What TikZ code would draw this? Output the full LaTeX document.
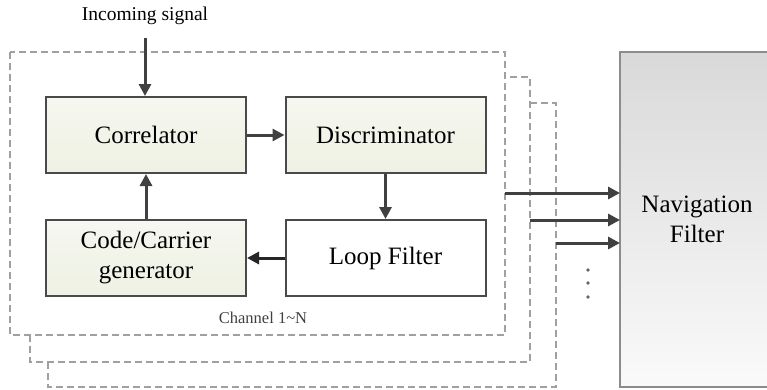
\documentclass[tikz,border=0pt]{standalone}
\usepackage{fontspec}
\setmainfont{Liberation Serif}
\usetikzlibrary{arrows.meta}
\definecolor{boxfill}{HTML}{EEF1E3}
\definecolor{boxline}{HTML}{4A4A4A}
\definecolor{dashcol}{HTML}{A0A0A0}
\definecolor{arrcol}{HTML}{404040}
\tikzset{
  blk/.style={draw=boxline, line width=2pt, minimum width=200pt, minimum height=76pt, inner sep=0pt, align=center, font=\fontsize{25}{30}\selectfont},
  gblk/.style={blk, top color=boxfill!50, bottom color=boxfill, middle color=boxfill!80},
  wblk/.style={blk, fill=white},
  frame/.style={draw=dashcol, line width=1.5pt, dash pattern=on 7pt off 4pt},
  conn/.style={draw=arrcol, line width=3pt, -{Triangle[length=12pt,width=12pt]}},
}
\begin{document}
\begin{tikzpicture}[x=1pt,y=-1pt]
\useasboundingbox (0,0) rectangle (767,389);
% navigation filter
\shade[top color=black!15, bottom color=black!2] (620,52) rectangle (775,387);
\draw[draw=black!45, line width=2pt] (775,52) -- (620,52) -- (620,387) -- (775,387);
\node[font=\fontsize{25}{30}\selectfont, align=center] (nav) at (697,219) {Navigation\\Filter};
\coordinate (navw) at (620,219);
% frames
\draw[frame] (10,52) rectangle (505,335);
\draw[frame] (30,335) -- (30,362) -- (530,362) -- (530,77) -- (505,77);
\draw[frame] (48,362) -- (48,387) -- (556,387) -- (556,103) -- (530,103);
% blocks
\node[gblk] (corr) at (146,135) {Correlator};
\node[gblk] (disc) at (385.5,135) {Discriminator};
\node[gblk] (gen) at (146,258) {Code/Carrier\\generator};
\node[wblk] (loop) at (385.5,258) {Loop Filter};
% text
\node[font=\fontsize{19.5}{22}\selectfont] (inc) at (145,16) {Incoming signal};
\node[font=\fontsize{16.5}{19}\selectfont, text=black!75] (ch) at (263,318) {Channel 1\textasciitilde N};
% connectors
\coordinate (inS) at (145,38);
\draw[conn] (inS) -- (inS |- corr.north);
\draw[conn] (corr.east) -- (disc.west);
\draw[conn] (disc.south) -- (loop.north);
\draw[conn, draw=black!85] (loop.west) -- (gen.east);
\draw[conn] (gen.north) -- (corr.south);
\coordinate (o1) at (505,193);
\coordinate (o2) at (530,220);
\coordinate (o3) at (556,243);
\draw[conn] (o1) -- (o1 -| navw);
\draw[conn] (o2) -- (o2 -| navw);
\draw[conn] (o3) -- (o3 -| navw);
\foreach \yy [count=\i] in {270,283,297} \fill[black!60] (588,\yy) circle (1.8pt) coordinate (d\i);
\end{tikzpicture}
\end{document}
